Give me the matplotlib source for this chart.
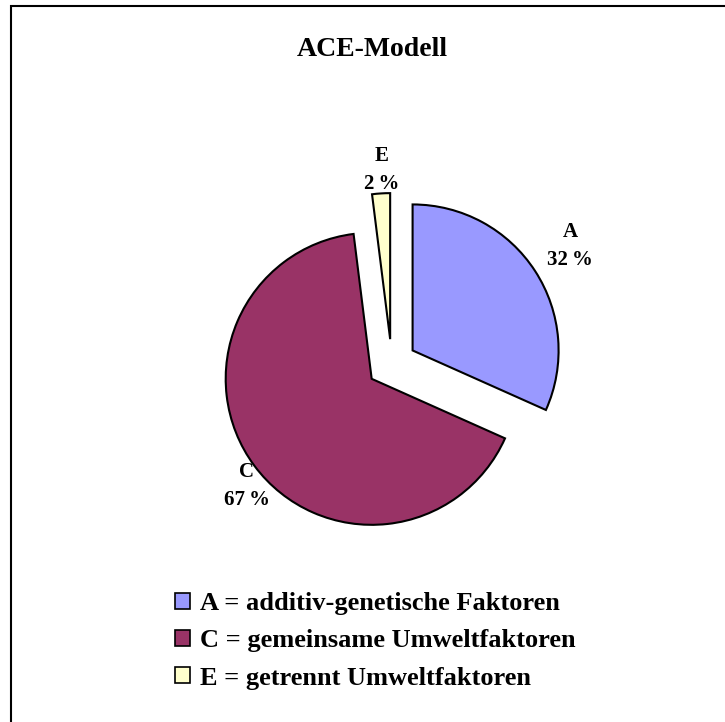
import matplotlib
matplotlib.use("Agg")
import matplotlib.pyplot as plt
from matplotlib.patches import Rectangle, Patch

categories = ["A", "C", "E"]
values = [32, 67, 2]
legend_labels = ["A = additiv-genetische Faktoren",
                 "C = gemeinsame Umweltfaktoren",
                 "E = getrennt Umweltfaktoren"]
colors = ["#9999FF", "#993366", "#FFFFCC"]
title = "ACE-Modell"

W, H = 725, 722
plt.rcParams['font.family'] = ['Liberation Serif', 'DejaVu Serif']
plt.rcParams['font.weight'] = 'bold'

fig = plt.figure(figsize=(W / 100, H / 100), dpi=100)
ax = fig.add_axes([0, 0, 1, 1])

cx, cy = 391.7, H - 364
r = 146
d = 24.9
wedges, _ = ax.pie(values, colors=colors, startangle=90, counterclock=False,
                   radius=r, center=(cx, cy), explode=[d] * len(values),
                   wedgeprops=dict(edgecolor="black", linewidth=1.5),
                   frame=True)
ax.set_xlim(0, W)
ax.set_ylim(0, H)
ax.set_aspect('auto')
ax.axis('off')

# slice labels
label_pos = [(570, 246), (247, 486), (382, 170)]
for cat, v, (x, y) in zip(categories, values, label_pos):
    ax.text(x, H - y, f"{cat}\n{v}\u2009%", ha='center', va='center',
            fontsize=15, fontweight='bold', linespacing=1.5)

ax.text(372, H - 50, title, ha='center', va='center', fontsize=20, fontweight='bold')

fs = 19
handles = [Patch(facecolor=c, edgecolor='black', linewidth=1.2) for c in colors]
leg = fig.legend(handles, legend_labels, loc='upper left',
                 bbox_to_anchor=(175 / W, 1 - 592 / H), frameon=False,
                 prop=dict(size=fs, weight='bold'), handlelength=0.57,
                 handleheight=0.57, handletextpad=0.38, labelspacing=0.54,
                 borderpad=0, borderaxespad=0)

fig.patches.append(Rectangle((11 / W, -0.1), 1.2, (1 - 6 / H) + 0.1,
                             transform=fig.transFigure, fill=False,
                             edgecolor='black', linewidth=1.5))

fig.savefig("out.png", dpi=100, facecolor='white')
